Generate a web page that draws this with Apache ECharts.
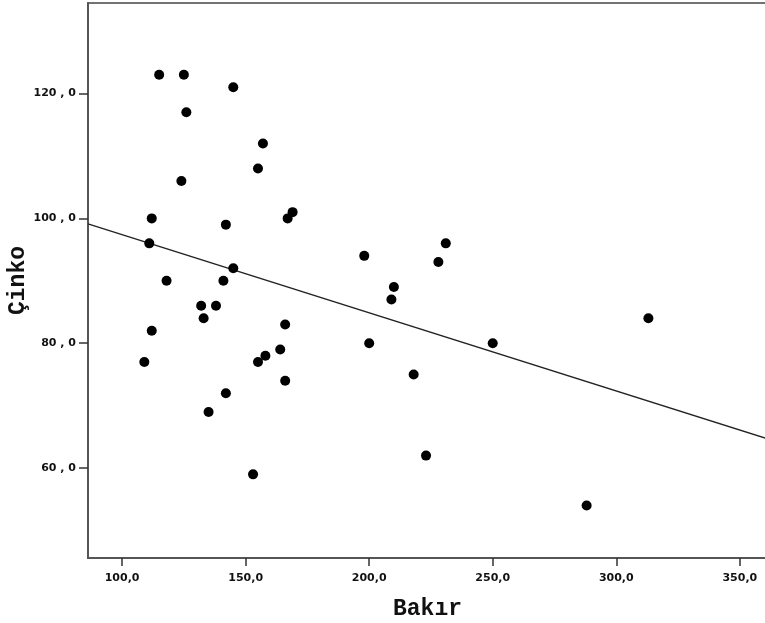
<!DOCTYPE html>
<html>
<head>
<meta charset="utf-8">
<script src="https://cdn.jsdelivr.net/npm/echarts@6/dist/echarts.min.js"></script>
<style>
  html, body { margin: 0; padding: 0; background: #fff; }
  #chart { width: 765px; height: 623px; }
</style>
</head>
<body>
<div id="chart"></div>
<script>
// Copper (Bakır) vs zinc (Çinko) measurements
const bakir = [115, 125, 145, 126, 157, 155, 124, 169, 167, 112, 142, 111, 145, 118, 141,
               132, 138, 133, 166, 112, 109, 158, 155, 164, 166, 142, 135, 153, 198, 231,
               228, 210, 209, 200, 218, 223, 250, 313, 288];
const cinko = [123, 123, 121, 117, 112, 108, 106, 101, 100, 100, 99, 96, 92, 90, 90,
               86, 86, 84, 83, 82, 77, 78, 77, 79, 74, 72, 69, 59, 94, 96,
               93, 89, 87, 80, 75, 62, 80, 84, 54];

// Linear fit line: cinko = fitIntercept + fitSlope * bakir
const fitIntercept = 109.92;
const fitSlope = -0.1252;

const xTicks = [100, 150, 200, 250, 300, 350];
const yTicks = [60, 80, 100, 120];

const xMin = 86.2, xMax = 361;
const yMin = 45.6, yMax = 134.5;

const points = bakir.map((b, i) => [b, cinko[i]]);
const fitLine = [xMin, xMax].map(x => [x, fitIntercept + fitSlope * x]);

const chart = echarts.init(document.getElementById('chart'), null, { renderer: 'canvas' });

const labelFont = { fontFamily: 'DejaVu Sans', fontWeight: 'bold', fontSize: 11, color: '#111' };
const titleFont = { fontFamily: 'Liberation Mono', fontWeight: 'bold', fontSize: 23, color: '#111' };

chart.setOption({
  animation: false,
  backgroundColor: '#fff',
  grid: {
    left: 88, top: 3, right: -2, bottom: 65,
    containLabel: false, outerBoundsMode: 'none',
    show: true, borderColor: '#444', borderWidth: 1.5, backgroundColor: 'transparent'
  },
  xAxis: {
    type: 'value', min: xMin, max: xMax,
    splitLine: { show: false },
    axisLine: { show: true, onZero: false, lineStyle: { color: '#555', width: 2 } },
    axisTick: { show: true, customValues: xTicks, length: 8, lineStyle: { color: '#333', width: 1.5 } },
    axisLabel: Object.assign({
      customValues: xTicks, margin: 15,
      formatter: v => v.toFixed(1).replace('.', ',')
    }, labelFont),
    name: 'Bakır', nameLocation: 'middle', nameGap: 40, nameMoveOverlap: false,
    nameTextStyle: titleFont
  },
  yAxis: {
    type: 'value', min: yMin, max: yMax,
    splitLine: { show: false },
    axisLine: { show: true, onZero: false, lineStyle: { color: '#555', width: 2 } },
    axisTick: { show: true, customValues: yTicks, length: 9, lineStyle: { color: '#333', width: 1.5 } },
    axisLabel: Object.assign({
      customValues: yTicks, margin: 12,
      formatter: v => v.toFixed(1).replace('.', ' , ')
    }, labelFont),
    name: 'Çinko', nameLocation: 'middle', nameGap: 58, nameRotate: 90, nameMoveOverlap: false,
    nameTextStyle: titleFont
  },
  series: [
    {
      type: 'line', data: fitLine, symbol: 'none', silent: true,
      lineStyle: { color: '#222', width: 1.3 }, z: 2
    },
    {
      type: 'scatter', data: points, symbol: 'circle', symbolSize: 10,
      itemStyle: { color: '#000', opacity: 1 }, z: 3
    }
  ]
});
</script>
</body>
</html>
